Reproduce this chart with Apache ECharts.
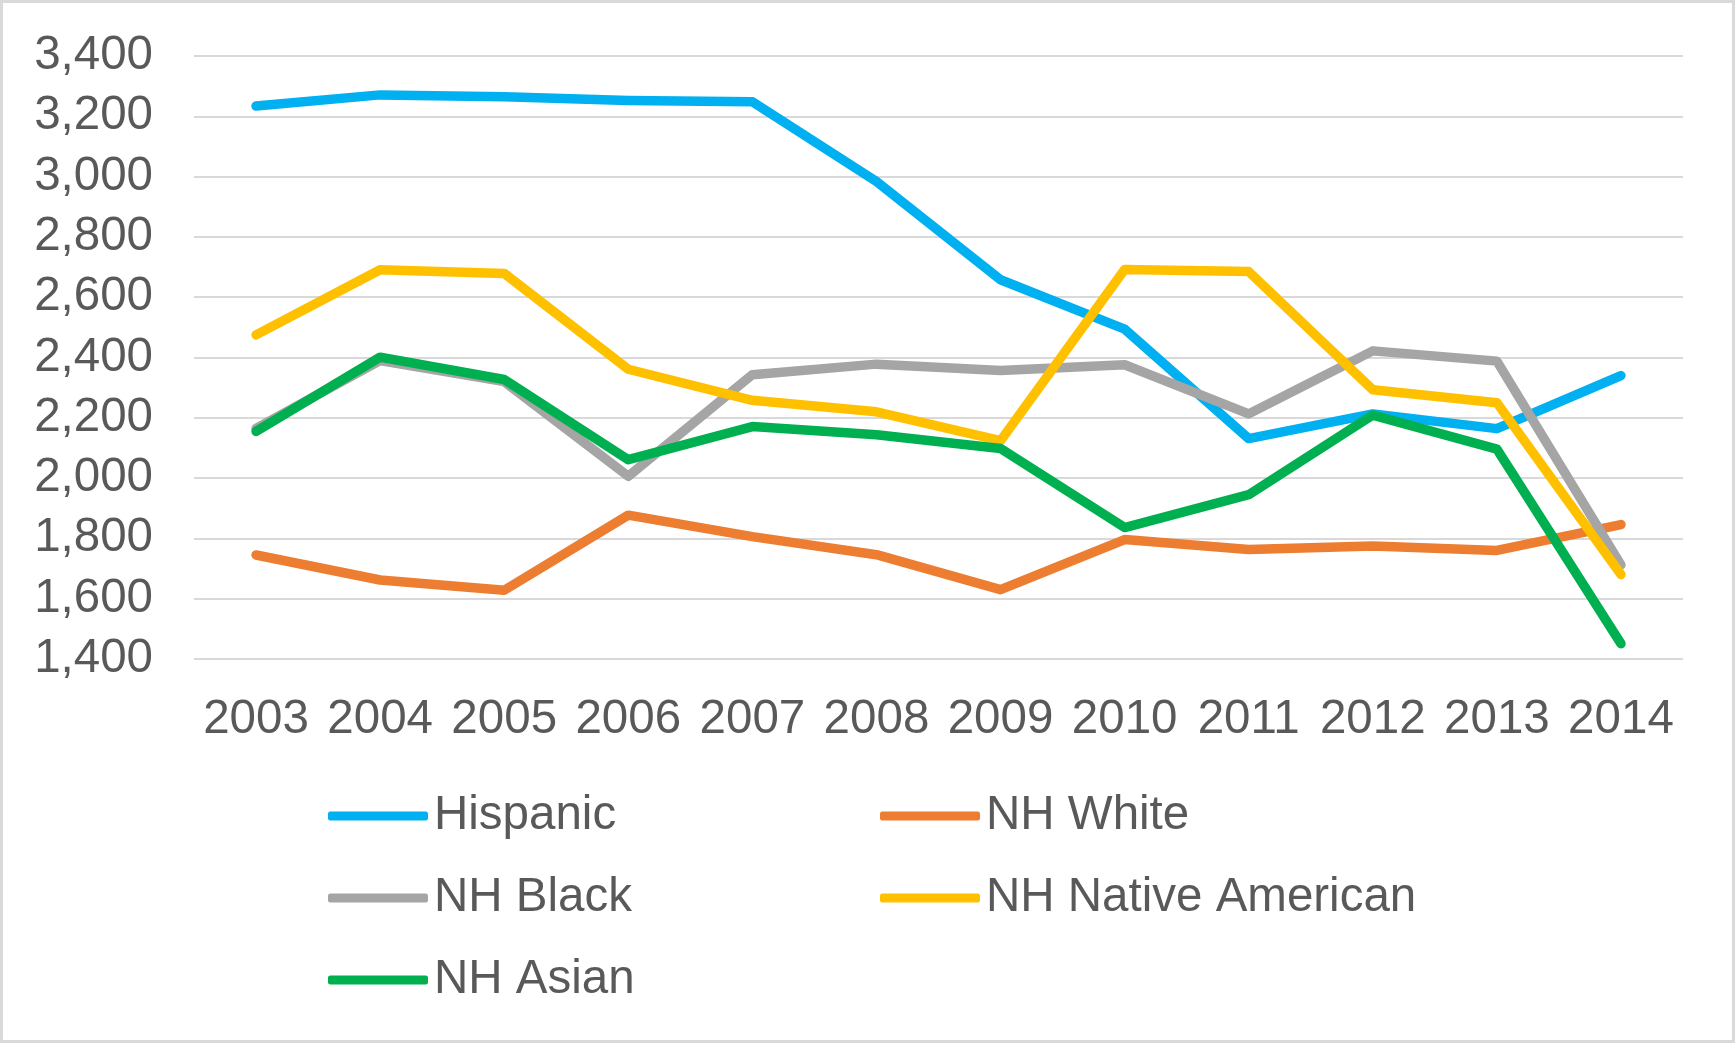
<!DOCTYPE html>
<html>
<head>
<meta charset="utf-8">
<script src="https://cdn.jsdelivr.net/npm/echarts@6/dist/echarts.min.js"></script>
<style>
  html, body { margin: 0; padding: 0; background: #fff; }
  #chart { width: 1735px; height: 1043px; box-sizing: border-box; border: 3px solid #d9d9d9; }
</style>
</head>
<body>
<div id="chart"></div>
<script>
// Years on the category axis
const years = ['2003', '2004', '2005', '2006', '2007', '2008', '2009', '2010', '2011', '2012', '2013', '2014'];

// Values per group, one per year
const hispanic       = [3234, 3271, 3265, 3252, 3248, 2984, 2658, 2494, 2131, 2213, 2164, 2340];
const nhWhite        = [1745, 1662, 1628, 1877, 1806, 1746, 1630, 1796, 1763, 1775, 1760, 1846];
const nhBlack        = [2165, 2390, 2320, 2006, 2343, 2378, 2357, 2376, 2213, 2422, 2388, 1712];
const nhNativeAmer   = [2475, 2691, 2679, 2361, 2258, 2220, 2124, 2692, 2685, 2293, 2250, 1680];
const nhAsian        = [2155, 2401, 2327, 2061, 2171, 2144, 2098, 1836, 1945, 2209, 2096, 1451];

// Y axis range
const yMin = 1400, yMax = 3400, yStep = 200;

const seriesDefs = [
  { name: 'Hispanic',           data: hispanic,     color: '#00B0F0' },
  { name: 'NH White',           data: nhWhite,      color: '#ED7D31' },
  { name: 'NH Black',           data: nhBlack,      color: '#A5A5A5' },
  { name: 'NH Native American', data: nhNativeAmer, color: '#FFC000' },
  { name: 'NH Asian',           data: nhAsian,      color: '#00B050' }
];

const FONT = '"Liberation Sans", Arial, sans-serif';
const TEXT = '#595959';

const legendCommon = {
  orient: 'vertical',
  top: 784,
  icon: 'roundRect',
  itemWidth: 100,
  itemHeight: 9,
  itemGap: 34,
  textStyle: { fontFamily: FONT, fontSize: 47.5, color: TEXT, lineHeight: 48, padding: [0, 0, 0, 1] },
  selectedMode: false
};

const chart = echarts.init(document.getElementById('chart'), null, { renderer: 'canvas' });
chart.setOption({
  backgroundColor: '#ffffff',
  animation: false,
  grid: { left: 191, right: 49, top: 53, bottom: 381, containLabel: false },
  legend: [
    Object.assign({}, legendCommon, { left: 320, data: ['Hispanic', 'NH Black', 'NH Asian'] }),
    Object.assign({}, legendCommon, { left: 872, data: ['NH White', 'NH Native American'] })
  ],
  xAxis: {
    type: 'category',
    data: years,
    boundaryGap: true,
    axisLine: { show: false },
    axisTick: { show: false },
    axisLabel: { fontFamily: FONT, fontSize: 47.5, color: TEXT, margin: 37, interval: 0, hideOverlap: false }
  },
  yAxis: {
    type: 'value',
    min: yMin,
    max: yMax,
    interval: yStep,
    axisLine: { show: false },
    axisTick: { show: false },
    splitLine: { lineStyle: { color: '#D9D9D9', width: 2 } },
    axisLabel: {
      fontFamily: FONT, fontSize: 47.5, color: TEXT, margin: 41,
      formatter: v => v.toLocaleString('en-US')
    }
  },
  series: seriesDefs.map(s => ({
    name: s.name,
    type: 'line',
    data: s.data,
    showSymbol: false,
    symbol: 'none',
    color: s.color,
    lineStyle: { width: 9.5, color: s.color, cap: 'round', join: 'round' },
    itemStyle: { color: s.color }
  }))
});
</script>
</body>
</html>
